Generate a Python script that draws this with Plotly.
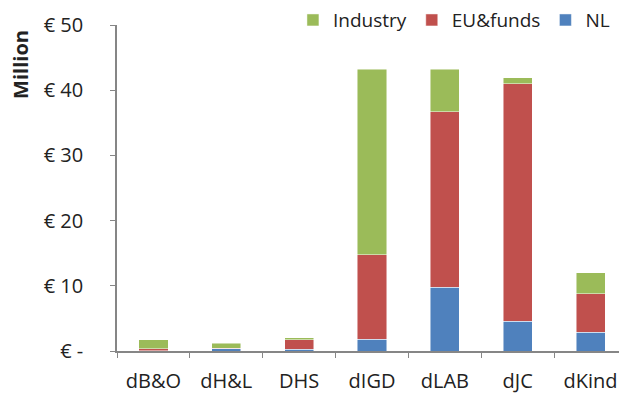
import plotly.graph_objects as go

categories = ["dB&O", "dH&L", "DHS", "dIGD", "dLAB", "dJC", "dKind"]
nl = [0.05, 0.35, 0.25, 1.8, 9.8, 4.55, 2.85]
eu_funds = [0.3, 0.05, 1.45, 13.0, 26.9, 36.45, 5.95]
industry = [1.4, 0.8, 0.3, 28.45, 6.55, 0.9, 3.2]

y_ticks = [0, 10, 20, 30, 40, 50]
y_tick_text = ["€ -", "€ 10", "€ 20", "€ 30", "€ 40", "€ 50"]

fig = go.Figure()
fig.add_bar(x=categories, y=nl, name="NL", marker_color="#4F81BD")
fig.add_bar(x=categories, y=eu_funds, name="EU&funds", marker_color="#C0504D")
fig.add_bar(x=categories, y=industry, name="Industry", marker_color="#9BBB59")
fig.update_traces(marker_line_color="rgba(255,255,255,0.6)", marker_line_width=0.8)

# page body has an 8px margin, so the figure is 8px smaller each way
fig.update_layout(
    barmode="stack",
    bargap=0.6,
    width=619,
    height=386,
    font_family="Open Sans",
    font_color="#222",
    font_size=20,
    margin={"l": 109, "t": 17, "r": 0, "b": 43, "autoexpand": False},
    paper_bgcolor="white",
    plot_bgcolor="white",
    showlegend=True,
    legend={
        "orientation": "h",
        "x": 0.345,
        "xanchor": "left",
        "y": 1.015,
        "yanchor": "middle",
        "traceorder": "reversed",
        "font_size": 19,
        "itemwidth": 30,
        "bgcolor": "rgba(0,0,0,0)",
    },
)
# "Million" sits at the top of the value axis, not centred on it
fig.add_annotation(
    text="<b>Million</b>",
    textangle=-90,
    xref="paper",
    yref="paper",
    x=-0.188,
    y=0.99,
    xanchor="center",
    yanchor="top",
    showarrow=False,
    font_size=20,
)
fig.update_xaxes(
    showline=True,
    linecolor="#868686",
    linewidth=1.5,
    ticks="outside",
    tickson="boundaries",
    ticklen=5,
    tickcolor="#868686",
    ticklabelstandoff=11,
    showgrid=False,
)
fig.update_yaxes(
    range=[0, 50],
    tickvals=y_ticks,
    ticktext=y_tick_text,
    showline=True,
    linecolor="#868686",
    linewidth=1.5,
    ticks="outside",
    ticklen=5,
    tickcolor="#868686",
    ticklabelstandoff=23,
    showgrid=False,
    zeroline=False,
)

fig.write_html("out.html")
